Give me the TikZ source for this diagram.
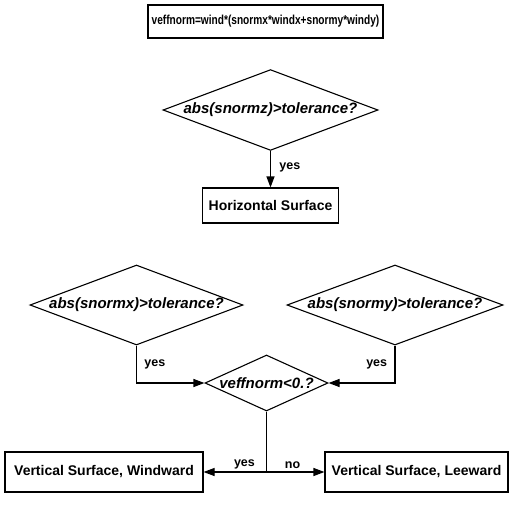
\documentclass[tikz,border=0pt]{standalone}
\usepackage{fontspec}
\usepackage{graphicx}
\setmainfont{Liberation Sans}
\usetikzlibrary{shapes.geometric,arrows.meta}
\begin{document}
\begin{tikzpicture}[x=1pt,y=-1pt,
  every node/.style={font=\bfseries\fontsize{14}{16}\selectfont},
  boxst/.style={draw,line width=1.1pt,inner sep=0pt,minimum height=#1},
  dia/.style={draw,diamond,line width=1.1pt,inner sep=0pt,font=\bfseries\itshape\fontsize{15}{17}\selectfont},
  conn/.style={line width=1.1pt},
  arr/.style={conn,-{Triangle[length=11pt,width=8pt]}},
  lbl/.style={font=\bfseries\fontsize{12.5}{14}\selectfont}]
\useasboundingbox (0,0) rectangle (525,514);
\node[boxst=33,minimum width=235,line width=1.4pt,font=\bfseries\fontsize{13}{15}\selectfont] (top) at (265.5,21.5) {\scalebox{0.78}[1]{veffnorm=wind*(snormx*windx+snormy*windy)}};
\node[dia,aspect=2.6,minimum width=215,minimum height=80] (d1) at (270.5,110) {abs(snormz)>tolerance?};
\node[boxst=35,minimum width=136] (hs) at (270.5,205.5) {Horizontal Surface};
\node[dia,aspect=2.66,minimum width=213,minimum height=80] (d2) at (136.5,305) {abs(snormx)>tolerance?};
\node[dia,aspect=2.7,minimum width=216,minimum height=80] (d3) at (395,305) {abs(snormy)>tolerance?};
\node[dia,aspect=2.2,minimum width=123,minimum height=56] (d4) at (266.5,383) {veffnorm<0.?};
\node[boxst=40,minimum width=198] (vw) at (104,472) {Vertical Surface, Windward};
\node[boxst=40,minimum width=183] (vl) at (416.5,472) {Vertical Surface, Leeward};
\draw[arr] (d1.south) -- (hs.north) node[lbl,pos=0.45,right=5pt] {yes};
\draw[arr] (d2.south) |- (d4.west) node[lbl,pos=0.25,right=4pt] {yes};
\draw[arr] (d3.south) |- (d4.east) node[lbl,pos=0.25,left=4pt] {yes};
\coordinate (j) at (d4.south |- vw.east);
\draw[conn] (d4.south) -- (j);
\draw[arr] (j) -- (vw.east) node[lbl,pos=0.35,above=-1pt] {yes};
\draw[arr] (j) -- (vl.west) node[lbl,pos=0.45,above=-1pt] {no};
\end{tikzpicture}
\end{document}
